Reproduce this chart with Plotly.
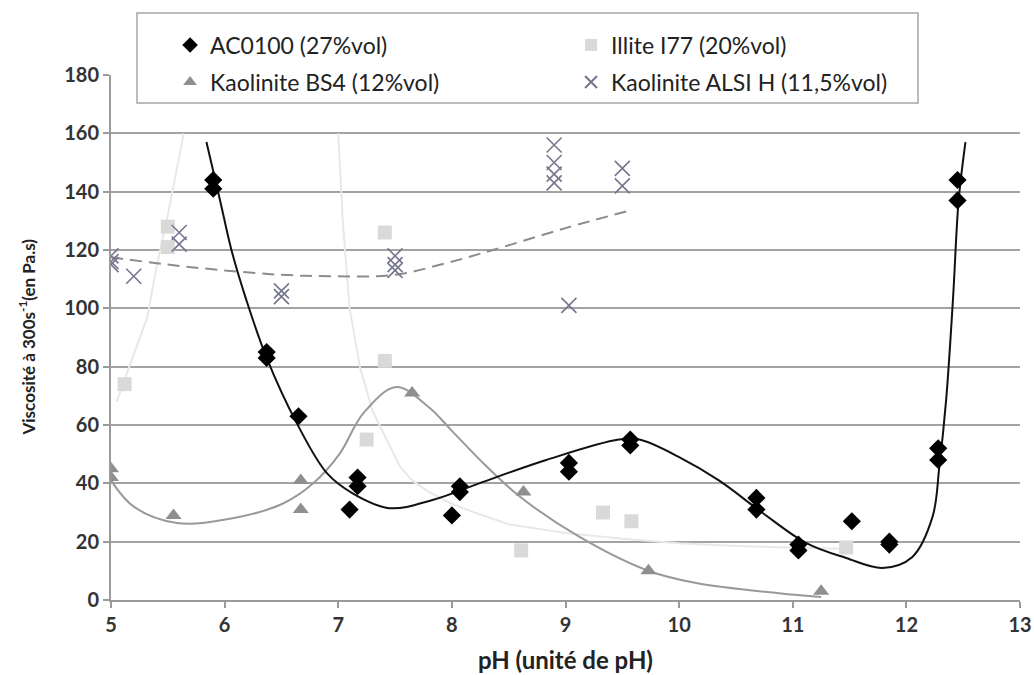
import plotly.graph_objects as go

# ---------------- data ----------------
# AC0100 (27%vol) - black diamonds
ac_ph = [5.9, 5.9, 6.37, 6.37, 6.65, 7.1, 7.17, 7.17, 8.0, 8.07, 8.07,
         9.03, 9.03, 9.57, 9.57, 10.68, 10.68, 11.05, 11.05, 11.52,
         11.85, 11.85, 12.28, 12.28, 12.45, 12.45]
ac_visc = [144, 141, 85, 83, 63, 31, 42, 39, 29, 39, 37,
           47, 44, 55, 53, 35, 31, 19, 17, 27,
           20, 19, 52, 48, 144, 137]
# AC0100 trend curve
ac_fit_ph = [5.84, 5.96, 6.06, 6.19, 6.37, 6.63, 6.9, 7.13, 7.45, 7.83, 8.24,
             8.83, 9.47, 9.65, 10.0, 10.35, 10.73, 11.12, 11.47, 11.79,
             12.05, 12.23, 12.29, 12.35, 12.41, 12.46, 12.52]
ac_fit_visc = [157, 137, 120, 103, 83, 61, 43.5, 36.5, 31.5, 34.3, 40,
               48, 55, 55, 49, 41, 30, 19.5, 14.4, 11,
               14.7, 28.5, 45.7, 68.6, 103, 137, 157]

# Illite I77 (20%vol) - light grey squares
il_ph = [5.12, 5.5, 5.5, 7.25, 7.41, 7.41, 8.61, 9.33, 9.58, 11.47]
il_visc = [74, 128, 121, 55, 126, 82, 17, 30, 27, 18]
il_fit_ph_a = [5.05, 5.2, 5.32, 5.4, 5.5, 5.58, 5.64]
il_fit_visc_a = [68, 84, 97, 114, 132, 148, 160]
il_fit_ph_b = [7.0, 7.04, 7.1, 7.19, 7.3, 7.4, 7.54, 7.65, 7.8, 8.0, 8.2, 8.5,
               9.0, 9.5, 10.0, 10.5, 11.0, 11.5]
il_fit_visc_b = [160, 130, 100, 80, 65, 57, 46, 41, 37, 33, 30, 26,
                 23, 21, 19.5, 18.5, 18, 17.5]

# Kaolinite BS4 (12%vol) - grey triangles
bs_ph = [5.0, 5.0, 5.55, 6.67, 6.67, 7.65, 8.63, 9.73, 11.25]
bs_visc = [45, 42, 29, 41, 31, 71, 37, 10, 3]
bs_fit_ph = [5.0, 5.2, 5.58, 6.07, 6.51, 6.78, 7.01, 7.22, 7.51, 7.8,
             8.0, 8.3, 8.6, 9.12, 9.71, 10.15, 10.88, 11.25]
bs_fit_visc = [41, 32, 26.4, 28, 33, 40, 50, 64, 73, 66,
               58, 46, 35.4, 21.7, 10.3, 5.8, 2.3, 1]

# Kaolinite ALSI H (11,5%vol) - crosses
al_ph = [5.0, 5.0, 5.0, 5.2, 5.6, 5.6, 6.5, 6.5, 7.5, 7.5, 7.5,
         8.9, 8.9, 8.9, 8.9, 9.03, 9.5, 9.5]
al_visc = [118, 116, 115, 111, 126, 122, 106, 104, 118, 115, 113,
           156, 150, 146, 143, 101, 148, 142]
al_fit_ph = [5.0, 5.5, 6.0, 6.5, 6.95, 7.5, 7.95, 8.36, 9.0, 9.56]
al_fit_visc = [117.5, 115, 113, 111.5, 111, 111.5, 115.5, 120, 127.5, 133.5]

x_ticks = [5, 6, 7, 8, 9, 10, 11, 12, 13]
y_ticks = [0, 20, 40, 60, 80, 100, 120, 140, 160, 180]
x_title = "pH (unité de pH)"
y_title = "Viscosité à 300s<sup>-1</sup>(en Pa.s)"

FONT = "Lato"
fig = go.Figure()

# trend curves (behind markers)
fig.add_trace(go.Scatter(x=il_fit_ph_a, y=il_fit_visc_a, mode="lines",
                         line=dict(color="#e8e8e8", width=2),
                         showlegend=False, hoverinfo="skip"))
fig.add_trace(go.Scatter(x=il_fit_ph_b, y=il_fit_visc_b, mode="lines",
                         line=dict(color="#e8e8e8", width=2),
                         showlegend=False, hoverinfo="skip"))
fig.add_trace(go.Scatter(x=bs_fit_ph, y=bs_fit_visc, mode="lines",
                         line=dict(color="#999999", width=2, shape="spline"),
                         showlegend=False, hoverinfo="skip"))
fig.add_trace(go.Scatter(x=al_fit_ph, y=al_fit_visc, mode="lines",
                         line=dict(color="#8c8c8c", width=2, shape="spline", dash="12px,7px"),
                         showlegend=False, hoverinfo="skip"))
fig.add_trace(go.Scatter(x=ac_fit_ph, y=ac_fit_visc, mode="lines",
                         line=dict(color="#111111", width=2, shape="spline"),
                         showlegend=False, hoverinfo="skip"))

# markers
fig.add_trace(go.Scatter(x=il_ph, y=il_visc, mode="markers", name="Illite I77 (20%vol)",
                         marker=dict(symbol="square", size=14, color="#d9d9d9"),
                         legend="legend"))
fig.add_trace(go.Scatter(x=bs_ph, y=bs_visc, mode="markers", name="Kaolinite BS4 (12%vol)",
                         marker=dict(symbol="triangle-up", size=14, color="#8f8f8f"),
                         legend="legend2"))
fig.add_trace(go.Scatter(x=al_ph, y=al_visc, mode="markers", name="Kaolinite ALSI H (11,5%vol)",
                         marker=dict(symbol="x-thin", size=15, color="#76768f",
                                     line=dict(color="#76768f", width=1.6)),
                         legend="legend2"))
fig.add_trace(go.Scatter(x=ac_ph, y=ac_visc, mode="markers", name="AC0100 (27%vol)",
                         marker=dict(symbol="diamond", size=14, color="#000000"),
                         legend="legend"))

legend_common = dict(orientation="h", xanchor="left", yanchor="middle",
                     bgcolor="rgba(0,0,0,0)", borderwidth=0,
                     font=dict(family=FONT, size=23, color="#222222"),
                     entrywidth=356, entrywidthmode="pixels",
                     itemsizing="constant")

fig.update_layout(
    width=1034, height=675,
    margin=dict(l=111, r=14, t=75, b=75, autoexpand=False),
    paper_bgcolor="white", plot_bgcolor="white",
    legend=dict(x=0.065, y=(600 - 45) / 525, traceorder="reversed", **legend_common),
    legend2=dict(x=0.065, y=(600 - 82) / 525, traceorder="normal", **legend_common),
    shapes=[dict(type="rect", xref="paper", yref="paper",
                 x0=(137 - 111) / 909, x1=(918 - 111) / 909,
                 y0=(600 - 103) / 525, y1=(600 - 13) / 525,
                 line=dict(color="#a6a6a6", width=1.5), fillcolor="white",
                 layer="above")],
    annotations=[
        dict(text=x_title, xref="paper", yref="paper", x=0.5, y=(600 - 659) / 525,
             xanchor="center", yanchor="middle", showarrow=False,
             font=dict(family=FONT, size=24, color="#222222", weight="bold")),
        dict(text=y_title, xref="paper", yref="paper", x=(27 - 111) / 909, y=0.5,
             xanchor="center", yanchor="middle", showarrow=False, textangle=-90,
             font=dict(family=FONT, size=17, color="#222222", weight="bold")),
    ],
)

fig.update_xaxes(range=[5, 13], tickvals=x_ticks, ticktext=[str(v) for v in x_ticks],
                 showgrid=False, zeroline=False, automargin=False,
                 showline=True, linecolor="#9a9a9a", linewidth=2,
                 ticks="outside", ticklen=6, tickcolor="#9a9a9a", tickwidth=1.5,
                 tickfont=dict(family=FONT, size=20, color="#333333", weight="bold"))
fig.update_yaxes(range=[0, 180], tickvals=y_ticks, ticktext=[str(v) for v in y_ticks],
                 showgrid=True, gridcolor="#a3a3a3", gridwidth=1.5, zeroline=False,
                 automargin=False,
                 showline=True, linecolor="#9a9a9a", linewidth=2,
                 ticks="outside", ticklen=6, tickcolor="#9a9a9a", tickwidth=1.5,
                 tickfont=dict(family=FONT, size=20, color="#333333", weight="bold"))

fig.write_html("out.html")
